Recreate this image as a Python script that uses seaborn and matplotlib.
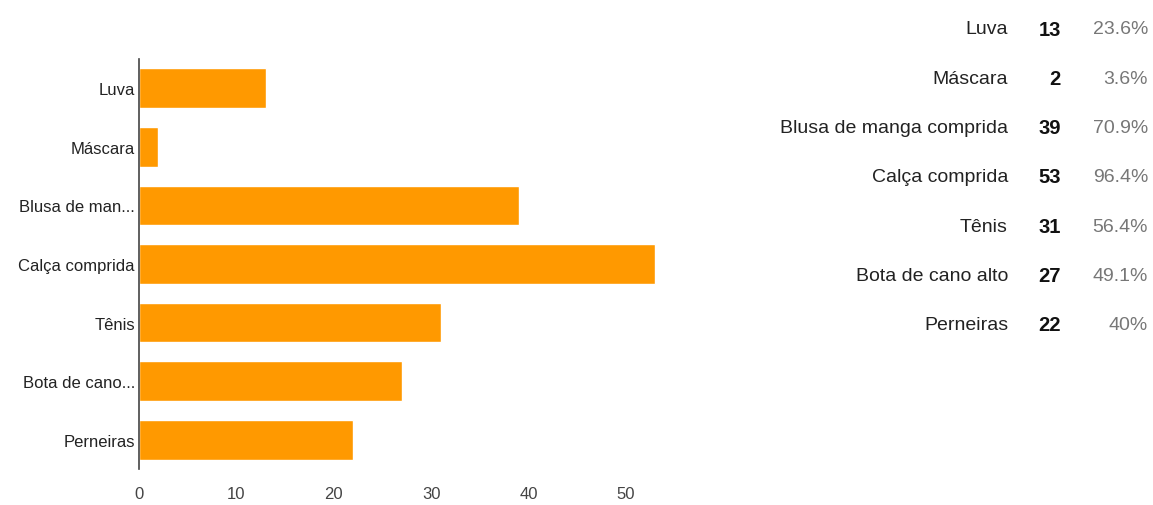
import matplotlib
matplotlib.use("Agg")
import matplotlib.pyplot as plt
import seaborn as sns
import pandas as pd

# data
categories = ['Luva', 'Máscara', 'Blusa de manga comprida', 'Calça comprida',
              'Tênis', 'Bota de cano alto', 'Perneiras']
short_labels = ['Luva', 'Máscara', 'Blusa de man...', 'Calça comprida',
                'Tênis', 'Bota de cano...', 'Perneiras']
counts = [13, 2, 39, 53, 31, 27, 22]
pct_labels = ['23.6%', '3.6%', '70.9%', '96.4%', '56.4%', '49.1%', '40%']

df = pd.DataFrame({'cat': categories, 'n': counts})

sns.set_theme(style="white")
plt.rcParams['font.family'] = ['Liberation Sans Narrow', 'Liberation Sans', 'DejaVu Sans']

fig = plt.figure(figsize=(11.53, 5.06), dpi=100)
ax = fig.add_axes([139 / 1153, 1 - 470 / 506, (658 - 139) / 1153, 410 / 506])

sns.barplot(data=df, x='n', y='cat', color='#ff9900', saturation=1,
            width=0.68, ax=ax)
ax.set_xlim(0, 53.3)
ax.set_ylim(6.5, -0.5)
ax.set_xticks([0, 10, 20, 30, 40, 50])
ax.set_yticklabels(short_labels)
ax.set_xlabel('')
ax.set_ylabel('')
for s in ['top', 'right', 'bottom']:
    ax.spines[s].set_visible(False)
ax.spines['left'].set_color('#444444')
ax.spines['left'].set_linewidth(1.2)
ax.tick_params(axis='both', length=0, labelsize=12, colors='#222222')
ax.tick_params(axis='x', pad=12, colors='#444444')
ax.tick_params(axis='y', pad=3)

# summary table on the right
row_y0 = 30
row_step = 49.3
for i, (c, n, p) in enumerate(zip(categories, counts, pct_labels)):
    y = 1 - (row_y0 + i * row_step) / 506
    fig.text(1008 / 1153, y, c, ha='right', va='center', fontsize=14, color='#222222')
    fig.text(1061 / 1153, y, str(n), ha='right', va='center', fontsize=14.5,
             fontweight='bold', color='#111111')
    fig.text(1148 / 1153, y, p, ha='right', va='center', fontsize=14, color='#777777')

fig.savefig('out.png', dpi=100)
